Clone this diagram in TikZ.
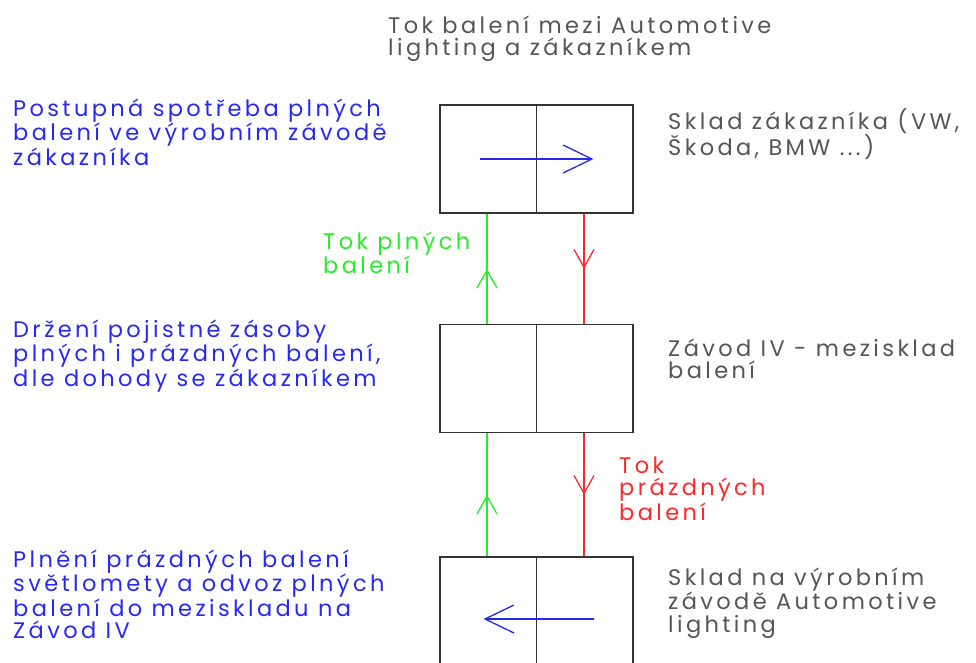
\documentclass[tikz,border=0pt]{standalone}
\usepackage{fontspec}
\setmainfont{Poppins}[LetterSpace=15]
\usetikzlibrary{arrows.meta,decorations.markings}

\definecolor{modra}{RGB}{40,40,245}
\definecolor{zelena}{RGB}{40,235,40}
\definecolor{cervena}{RGB}{255,40,40}
\definecolor{seda}{RGB}{85,85,85}

\tikzset{
  sklad/.style={draw=black!80, line width=1.2pt, minimum width=193pt,
    minimum height=108pt, inner sep=0pt},
  % anchored at the baseline of the last line
  popis/.style={anchor=base west, align=left, inner sep=0pt,
    font=\fontsize{22.5}{22.5}\selectfont},
  tok/.style={line width=1.3pt, postaction={decorate}, decoration={markings,
    mark=at position 0.5 with {\arrow{Straight Barb[length=18pt,width=20pt]}}}},
  presun/.style={modra, line width=1.3pt, -{Straight Barb[length=29pt,width=28pt]}},
}

\begin{document}
\begin{tikzpicture}[x=1pt,y=-1pt]
 \useasboundingbox (0,0) rectangle (976,662);

 % three stores, each split in two halves
 \node[sklad] (zak) at (536.5,159) {};
 \node[sklad] (zavod) at (536.5,378.5) {};
 \node[sklad] (vyr) at (536.5,611) {};
 \foreach \s in {zak,zavod,vyr}
   \draw[black!80, line width=1.8pt] (\s.north) -- (\s.south);

 % full packages go up, empty ones come back down
 \draw[tok,zelena] ([xshift=-49.5pt]zavod.north) -- ([xshift=-49.5pt]zak.south);
 \draw[tok,cervena] ([xshift=47.5pt]zak.south) -- ([xshift=47.5pt]zavod.north);
 \draw[tok,zelena] ([xshift=-49.5pt]vyr.north) -- ([xshift=-49.5pt]zavod.south);
 \draw[tok,cervena] ([xshift=47.5pt]zavod.south) -- ([xshift=47.5pt]vyr.north);

 \draw[presun] ([xshift=-57pt]zak.center) -- ([xshift=57pt]zak.center);
 \draw[presun] ([xshift=57pt,yshift=-8pt]vyr.center) -- ([xshift=-53pt,yshift=-8pt]vyr.center);

 % labels
 \node[popis,seda] (nadpis) at (388,55.5) {Tok balení mezi Automotive\\lighting a zákazníkem};

 \node[popis,modra] (spotreba) at (13,165) {Postupná spotřeba plných\\balení ve výrobním závodě\\zákazníka};
 \node[popis,modra] (zasoba) at (13,386) {Držení pojistné zásoby\\plných i prázdných balení,\\dle dohody se zákazníkem};
 \node[popis,modra] (plneni) at (13,638.5) {Plnění prázdných balení\\světlomety a odvoz plných\\balení do meziskladu na\\Závod IV};

 \node[popis,seda] (skladzak) at (668,155.5) {Sklad zákazníka (VW,\\Škoda, BMW ...)};
 \node[popis,seda] (mezisklad) at (668,378.5) {Závod IV - mezisklad\\balení};
 \node[popis,seda] (skladvyr) at (668,632) {Sklad na výrobním\\závodě Automotive\\lighting};

 \node[popis,zelena] (plne) at (323,273.5) {Tok plných\\balení};
 \node[popis,cervena] (prazdne) at (619,520) {Tok\\prázdných\\balení};
\end{tikzpicture}
\end{document}
